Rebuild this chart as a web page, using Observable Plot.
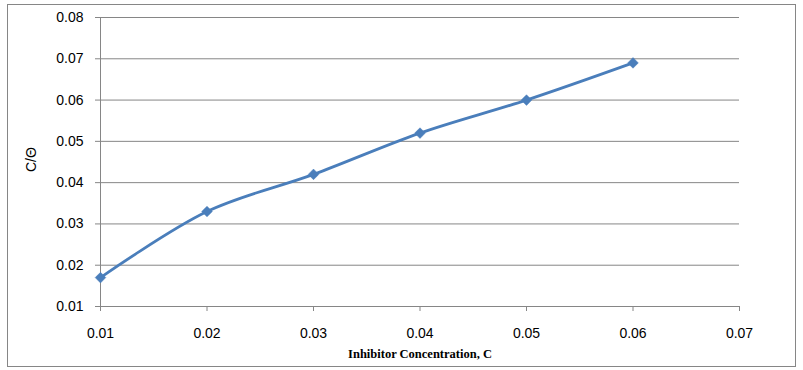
<!DOCTYPE html>
<html>
<head>
<meta charset="utf-8">
<script src="https://cdn.jsdelivr.net/npm/d3@7"></script>
<script src="https://cdn.jsdelivr.net/npm/@observablehq/plot@0.6"></script>
<style>
  html, body { margin: 0; padding: 0; background: #fff; }
  #wrap { position: relative; width: 803px; height: 370px; }
  #frame { position: absolute; left: 7px; top: 4px; width: 787px; height: 361px; border: 1px solid #868686; pointer-events: none; }
</style>
</head>
<body>
<div id="wrap"><div id="frame"></div></div>
<script>
const concentrations = [0.01, 0.02, 0.03, 0.04, 0.05, 0.06];
const cOverTheta = [0.017, 0.033, 0.042, 0.052, 0.060, 0.069];
const xTicks = [0.01, 0.02, 0.03, 0.04, 0.05, 0.06, 0.07];
const yTicks = [0.01, 0.02, 0.03, 0.04, 0.05, 0.06, 0.07, 0.08];
const xLabel = "Inhibitor Concentration, C";
const yLabel = "C/Θ";

const data = concentrations.map((c, i) => ({c, v: cOverTheta[i]}));
const color = "#4a7ebb";
const gray = "#868686";

const chart = Plot.plot({
  width: 803,
  height: 370,
  marginLeft: 100,
  marginRight: 64,
  marginTop: 17,
  marginBottom: 64,
  style: {fontFamily: "'Liberation Sans', Arial, sans-serif", fontSize: "14px", color: "#000", background: "transparent"},
  x: {domain: [0.01, 0.07], ticks: xTicks, tickFormat: d3.format(".2f"), label: null},
  y: {domain: [0.01, 0.08], ticks: yTicks, tickFormat: d3.format(".2f"), label: null},
  marks: [
    Plot.gridY(yTicks, {stroke: gray, strokeOpacity: 1, strokeWidth: 1}),
    Plot.ruleX([0.01], {stroke: gray, strokeWidth: 1}),
    Plot.axisX(xTicks, {tickSize: 5, tickPadding: 17, stroke: gray, tickFormat: d3.format(".2f"), fill: "#000", fontSize: 14}),
    Plot.axisY(yTicks, {tickSize: 5, tickPadding: 12, stroke: gray, tickFormat: d3.format(".2f"), fill: "#000", fontSize: 14}),
    Plot.line(data, {x: "c", y: "v", stroke: color, strokeWidth: 2.8, curve: "catmull-rom"}),
    Plot.dot(data, {x: "c", y: "v", symbol: "diamond2", r: 4.8, fill: color, stroke: color, strokeWidth: 0.5}),
    Plot.text([xLabel], {frameAnchor: "bottom", dy: 51, text: d => d, fontFamily: "'Liberation Serif', 'Times New Roman', serif", fontWeight: "bold", fontSize: 12.5, fill: "#000"}),
    Plot.text([yLabel], {frameAnchor: "left", dx: -69, dy: 10, rotate: -90, text: d => d, fontSize: 14, fill: "#000"})
  ]
});
document.getElementById("wrap").appendChild(chart);
chart.style.position = "absolute";
chart.style.left = "0";
chart.style.top = "0";
</script>
</body>
</html>
